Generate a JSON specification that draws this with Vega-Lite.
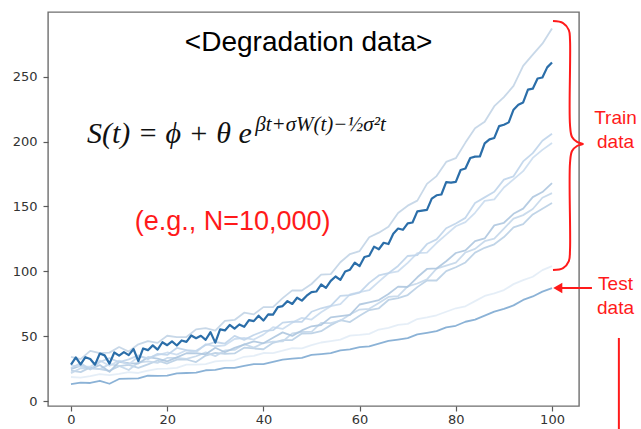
{
  "$schema": "https://vega.github.io/schema/vega-lite/v6.json",
  "width": 531,
  "height": 394,
  "autosize": {"type": "none"},
  "padding": {"left": 48, "top": 12, "right": 62, "bottom": 23},
  "background": "white",
  "config": {
    "view": {"stroke": "#6e6e6e", "strokeWidth": 1.4},
    "axis": {"domain": false, "grid": false, "ticks": true, "tickColor": "#5a5a5a", "tickSize": 5, "tickWidth": 1.2, "labelFont": "DejaVu Sans", "labelFontSize": 13, "labelColor": "#333333", "title": null}
  },
  "datasets": {
    "light": [
      {"t":0,"L1":34,"A1":25.3,"A2":27.5,"B1":24.5,"B2":21.5,"B3":23.5,"F":18.5,"T":13},
      {"t":2,"L1":32.3,"A1":29.3,"A2":26.5,"B1":27.3,"B2":25.3,"B3":22.3,"F":18.1,"T":14.2},
      {"t":4,"L1":38.6,"A1":24.2,"A2":26.4,"B1":25.0,"B2":25.0,"B3":25.9,"F":19.2,"T":13.9},
      {"t":6,"L1":37,"A1":30.1,"A2":31.2,"B1":27.7,"B2":24.6,"B3":24.6,"F":20.8,"T":15.6},
      {"t":8,"L1":37.3,"A1":33.1,"A2":27.2,"B1":22.5,"B2":28.4,"B3":23.3,"F":19.9,"T":13.3},
      {"t":10,"L1":41.6,"A1":30.0,"A2":31.1,"B1":30.2,"B2":27.1,"B3":26.9,"F":21,"T":17},
      {"t":12,"L1":38.1,"A1":32.1,"A2":28.1,"B1":29.1,"B2":23.9,"B3":27.8,"F":22.3,"T":17.2},
      {"t":14,"L1":43.7,"A1":35.2,"A2":34.2,"B1":28.9,"B2":29.7,"B3":25.5,"F":21.6,"T":17.4},
      {"t":16,"L1":46.2,"A1":32.3,"A2":33.3,"B1":33.8,"B2":30.6,"B3":28.3,"F":23.4,"T":19.6},
      {"t":18,"L1":44.8,"A1":36.4,"A2":35.3,"B1":32.7,"B2":29.4,"B3":31.2,"F":24.7,"T":19.3},
      {"t":20,"L1":50.3,"A1":35.5,"A2":37.4,"B1":30.5,"B2":33.2,"B3":28.9,"F":25,"T":19.5},
      {"t":22,"L1":49.3,"A1":40.9,"A2":35.8,"B1":33.6,"B2":33.3,"B3":31.9,"F":25.5,"T":21.3},
      {"t":24,"L1":49.3,"A1":39.3,"A2":39.1,"B1":36.8,"B2":32.4,"B3":32.0,"F":28,"T":21.6},
      {"t":26,"L1":55.2,"A1":38.7,"A2":37.5,"B1":36.9,"B2":34.5,"B3":30.0,"F":28,"T":21.9},
      {"t":28,"L1":56.2,"A1":43.1,"A2":43.8,"B1":36.0,"B2":37.5,"B3":35.0,"F":28.5,"T":23.7},
      {"t":30,"L1":54.2,"A1":45.5,"A2":42.2,"B1":41.1,"B2":34.6,"B3":37.1,"F":30.5,"T":24},
      {"t":32,"L1":61.8,"A1":44.3,"A2":42.9,"B1":37.6,"B2":39.0,"B3":36.4,"F":31.2,"T":25.5},
      {"t":34,"L1":62.5,"A1":50.2,"A2":47.8,"B1":41.0,"B2":39.4,"B3":36.7,"F":31.4,"T":25.5},
      {"t":36,"L1":68.1,"A1":47.1,"A2":48.6,"B1":43.5,"B2":43.8,"B3":41.1,"F":34.1,"T":27},
      {"t":38,"L1":66.8,"A1":50.9,"A2":47.4,"B1":46.0,"B2":41.2,"B3":40.5,"F":34.8,"T":28.5},
      {"t":40,"L1":72.4,"A1":53.8,"A2":51.2,"B1":44.5,"B2":44.7,"B3":39.9,"F":37,"T":28.5},
      {"t":42,"L1":72.4,"A1":54.6,"A2":56.9,"B1":48.7,"B2":45.8,"B3":44.9,"F":36.9,"T":30.2},
      {"t":44,"L1":79.3,"A1":60.4,"A2":55.6,"B1":52.9,"B2":45.9,"B3":46.9,"F":38.8,"T":31.9},
      {"t":46,"L1":85.3,"A1":61.2,"A2":60.4,"B1":50.2,"B2":52.1,"B3":47.0,"F":40.7,"T":32.6},
      {"t":48,"L1":85.2,"A1":61.0,"A2":64.1,"B1":54.4,"B2":53.2,"B3":52.0,"F":40.6,"T":33.3},
      {"t":50,"L1":90.2,"A1":68.8,"A2":62.8,"B1":57.6,"B2":53.3,"B3":52.1,"F":43,"T":35.5},
      {"t":52,"L1":97.5,"A1":71.5,"A2":68.4,"B1":58.6,"B2":60.2,"B3":53.8,"F":45.1,"T":36.2},
      {"t":54,"L1":97.8,"A1":73.3,"A2":73.1,"B1":64.5,"B2":60.0,"B3":58.5,"F":46.2,"T":36.9},
      {"t":56,"L1":107,"A1":81.0,"A2":74.7,"B1":65.5,"B2":61.9,"B3":62.3,"F":47.3,"T":39.1},
      {"t":58,"L1":113.3,"A1":81.7,"A2":82.2,"B1":66.4,"B2":66.7,"B3":60.9,"F":50.4,"T":39.8},
      {"t":60,"L1":115.6,"A1":83.5,"A2":83.9,"B1":74.4,"B2":70.5,"B3":65.7,"F":51,"T":41.5},
      {"t":62,"L1":126.2,"A1":91.1,"A2":85.4,"B1":76.1,"B2":71.1,"B3":70.1,"F":51.8,"T":42.1},
      {"t":64,"L1":129.8,"A1":96.8,"A2":92.0,"B1":77.8,"B2":75.6,"B3":71.5,"F":55.1,"T":44.2},
      {"t":66,"L1":134.4,"A1":98.5,"A2":98.5,"B1":82.5,"B2":80.2,"B3":77.9,"F":56.4,"T":46.3},
      {"t":68,"L1":145,"A1":104.1,"A2":100.0,"B1":88.2,"B2":80.8,"B3":79.3,"F":58.7,"T":47.4},
      {"t":70,"L1":150.6,"A1":111.8,"A2":106.5,"B1":87.9,"B2":88.3,"B3":81.7,"F":59.5,"T":48.5},
      {"t":72,"L1":154.5,"A1":112.4,"A2":114.0,"B1":95.4,"B2":90.6,"B3":87.8,"F":63.2,"T":51.3},
      {"t":74,"L1":167.4,"A1":121.0,"A2":114.4,"B1":101.8,"B2":93.8,"B3":92.9,"F":64.4,"T":52.6},
      {"t":76,"L1":173.4,"A1":124.6,"A2":121.8,"B1":102.2,"B2":102.1,"B3":92.9,"F":66.1,"T":53.9},
      {"t":78,"L1":184.3,"A1":133.2,"A2":128.3,"B1":107.7,"B2":104.4,"B3":100.1,"F":68.8,"T":56.7},
      {"t":80,"L1":187.2,"A1":136.8,"A2":134.7,"B1":114.1,"B2":106.6,"B3":103.1,"F":71.5,"T":58},
      {"t":82,"L1":199.2,"A1":141.2,"A2":137.9,"B1":116.2,"B2":114.5,"B3":106.8,"F":73,"T":61.1},
      {"t":84,"L1":210.2,"A1":152.6,"A2":145.1,"B1":123.2,"B2":117.3,"B3":114.4,"F":77,"T":62.7},
      {"t":86,"L1":215.3,"A1":157.0,"A2":154.3,"B1":125.3,"B2":123.2,"B3":118.1,"F":81,"T":65.8},
      {"t":88,"L1":227.3,"A1":161.3,"A2":155.4,"B1":135.4,"B2":125.1,"B3":120.8,"F":83,"T":68.9},
      {"t":90,"L1":234.3,"A1":170.7,"A2":164.6,"B1":137.4,"B2":132.9,"B3":126.4,"F":85.5,"T":71},
      {"t":92,"L1":242.9,"A1":173.2,"A2":170.9,"B1":144.3,"B2":140.6,"B3":133.8,"F":90.1,"T":73.7},
      {"t":94,"L1":258.4,"A1":184.7,"A2":177.2,"B1":148.3,"B2":143.3,"B3":136.4,"F":93.2,"T":77.9},
      {"t":96,"L1":267,"A1":191.1,"A2":187.4,"B1":157.2,"B2":148.0,"B3":143.8,"F":95.8,"T":80.6},
      {"t":98,"L1":275.5,"A1":200.6,"A2":193.6,"B1":161.1,"B2":156.7,"B3":148.2,"F":100.9,"T":84.3},
      {"t":100,"L1":287.1,"A1":206.1,"A2":198.9,"B1":168.0,"B2":160.3,"B3":152.6,"F":104,"T":87}
    ],
    "dark": [
      {"t":0,"v":28},{"t":1,"v":33.6},{"t":2,"v":28.2},{"t":3,"v":33.8},{"t":4,"v":32.4},{"t":5,"v":28},{"t":6,"v":36.6},{"t":7,"v":35.2},{"t":8,"v":28.8},{"t":9,"v":37.4},
      {"t":10,"v":35},{"t":11,"v":37.7},{"t":12,"v":35.4},{"t":13,"v":40.1},{"t":14,"v":30.8},{"t":15,"v":40.5},{"t":16,"v":39.2},{"t":17,"v":42.9},{"t":18,"v":39.6},{"t":19,"v":45.3},
      {"t":20,"v":43},{"t":21,"v":45.9},{"t":22,"v":42.8},{"t":23,"v":46.7},{"t":24,"v":45.6},{"t":25,"v":50.5},{"t":26,"v":48.4},{"t":27,"v":50.3},{"t":28,"v":47.2},{"t":29,"v":53.1},
      {"t":30,"v":45},{"t":31,"v":55.2},{"t":32,"v":54.4},{"t":33,"v":58.6},{"t":34,"v":55.8},{"t":35,"v":59},{"t":36,"v":57.2},{"t":37,"v":62.4},{"t":38,"v":61.6},{"t":39,"v":65.8},
      {"t":40,"v":62},{"t":41,"v":66.8},{"t":42,"v":66.6},{"t":43,"v":72.4},{"t":44,"v":73.2},{"t":45,"v":77},{"t":46,"v":74.8},{"t":47,"v":79.6},{"t":48,"v":77.4},{"t":49,"v":81.2},
      {"t":50,"v":84},{"t":51,"v":84.4},{"t":52,"v":89.8},{"t":53,"v":87.2},{"t":54,"v":92.6},{"t":55,"v":96},{"t":56,"v":93.4},{"t":57,"v":99.8},{"t":58,"v":101.2},{"t":59,"v":106.6},
      {"t":60,"v":104},{"t":61,"v":111},{"t":62,"v":112},{"t":63,"v":119},{"t":64,"v":117},{"t":65,"v":122},{"t":66,"v":121},{"t":67,"v":129},{"t":68,"v":133},{"t":69,"v":132},
      {"t":70,"v":137},{"t":71,"v":137.6},{"t":72,"v":146.2},{"t":73,"v":146.8},{"t":74,"v":147.4},{"t":75,"v":156},{"t":76,"v":158.6},{"t":77,"v":159.2},{"t":78,"v":168.8},{"t":79,"v":168.4},
      {"t":80,"v":169},{"t":81,"v":178.1},{"t":82,"v":179.2},{"t":83,"v":187.3},{"t":84,"v":188.4},{"t":85,"v":188.5},{"t":86,"v":198.6},{"t":87,"v":201.7},{"t":88,"v":202.8},{"t":89,"v":211.9},
      {"t":90,"v":213},{"t":91,"v":214.8},{"t":92,"v":224.6},{"t":93,"v":228.4},{"t":94,"v":230.2},{"t":95,"v":240},{"t":96,"v":240.8},{"t":97,"v":248.6},{"t":98,"v":249.4},{"t":99,"v":257.2},{"t":100,"v":261}
    ],
    "brace": [
      {"o":0,"t":100.2,"v":292.9},{"o":1,"t":102.3,"v":291.4},{"o":2,"t":103.5,"v":286.0},{"o":3,"t":103.74,"v":278.3},{"o":4,"t":103.74,"v":212.8},{"o":5,"t":104.16,"v":203.5},{"o":6,"t":105.2,"v":199.7},{"o":7,"t":106.44,"v":198.1},{"o":8,"t":105.2,"v":196.6},{"o":9,"t":104.16,"v":192.7},{"o":10,"t":103.74,"v":183.5},{"o":11,"t":103.74,"v":116.4},{"o":12,"t":103.5,"v":107.9},{"o":13,"t":102.3,"v":102.5},{"o":14,"t":100.2,"v":101.0}
    ],
    "redlabels": [
      {"t":113.2,"v":218.2,"label":"Train"},
      {"t":113.2,"v":199.7,"label":"data"},
      {"t":113.2,"v":90.2,"label":"Test"},
      {"t":113.2,"v":71.7,"label":"data"}
    ]
  },
  "encoding": {
    "x": {"field": "t", "type": "quantitative", "scale": {"domain": [-4.78, 105.61], "nice": false, "zero": false}, "axis": {"values": [0, 20, 40, 60, 80, 100], "labelPadding": 2}},
    "y": {"field": "v", "type": "quantitative", "scale": {"domain": [-3.85, 299.9], "nice": false, "zero": false}, "axis": {"values": [0, 50, 100, 150, 200, 250], "labelPadding": 6}}
  },
  "layer": [
    {
      "data": {"name": "light"},
      "transform": [{"fold": ["F", "B3", "B2", "B1", "A2", "A1", "L1", "T"], "as": ["s", "v"]}],
      "mark": {"type": "line", "strokeWidth": 1.8, "strokeJoin": "round", "opacity": 0.9},
      "encoding": {
        "color": {"field": "s", "type": "nominal", "legend": null, "scale": {"domain": ["F", "B3", "B2", "B1", "A2", "A1", "L1", "T"], "range": ["#e2ecf6", "#b9cfe4", "#c4d7ea", "#aec7df", "#cadcee", "#bfd4ea", "#c2d4e6", "#7eaad2"]}},
        "detail": {"field": "s"}
      }
    },
    {
      "data": {"name": "dark"},
      "mark": {"type": "line", "color": "#2b6ea9", "strokeWidth": 2.2, "strokeJoin": "round"}
    },
    {
      "data": {"values": [{"t": 49.4, "v": 276, "label": "<Degradation data>"}]},
      "mark": {"type": "text", "font": "Liberation Sans", "fontSize": 28, "color": "#000000", "align": "center", "baseline": "middle"},
      "encoding": {"text": {"field": "label"}}
    },
    {
      "data": {"values": [{"t": 3.33, "v": 198.9, "label": "S(t) = ϕ + θ e"}]},
      "mark": {"type": "text", "font": "Liberation Serif", "fontStyle": "italic", "fontSize": 30, "color": "#111111", "align": "left", "baseline": "alphabetic"},
      "encoding": {"text": {"field": "label"}}
    },
    {
      "data": {"values": [{"t": 38.3, "v": 208.1, "label": "βt+σW(t)−½σ²t"}]},
      "mark": {"type": "text", "font": "Liberation Serif", "fontStyle": "italic", "fontSize": 21, "color": "#111111", "align": "left", "baseline": "alphabetic"},
      "encoding": {"text": {"field": "label"}}
    },
    {
      "data": {"values": [{"t": 33.6, "v": 138, "label": "(e.g., N=10,000)"}]},
      "mark": {"type": "text", "font": "Liberation Sans", "fontSize": 27, "color": "#ff1a1a", "align": "center", "baseline": "middle"},
      "encoding": {"text": {"field": "label"}}
    },
    {
      "data": {"name": "redlabels"},
      "mark": {"type": "text", "font": "Liberation Sans", "fontSize": 19, "color": "#ff1a1a", "align": "center", "baseline": "middle", "clip": false},
      "encoding": {"text": {"field": "label"}}
    },
    {
      "data": {"name": "brace"},
      "mark": {"type": "line", "color": "#ff1a1a", "strokeWidth": 2, "interpolate": "catmull-rom", "clip": false},
      "encoding": {"order": {"field": "o", "type": "quantitative"}}
    },
    {
      "data": {"values": [{"o": 0, "t": 108.3, "v": 87.1}, {"o": 1, "t": 101.5, "v": 87.1}]},
      "mark": {"type": "line", "color": "#ff1a1a", "strokeWidth": 2, "clip": false},
      "encoding": {"order": {"field": "o", "type": "quantitative"}}
    },
    {
      "data": {"values": [{"t": 101.2, "v": 87.1}]},
      "mark": {"type": "point", "shape": "triangle-left", "filled": true, "size": 110, "color": "#ff1a1a", "opacity": 1, "clip": false}
    },
    {
      "data": {"values": [{"t": 113.9, "v": 48.6, "v2": -25}]},
      "mark": {"type": "rule", "color": "#ff1a1a", "strokeWidth": 2, "clip": false},
      "encoding": {"y2": {"field": "v2"}}
    }
  ]
}
